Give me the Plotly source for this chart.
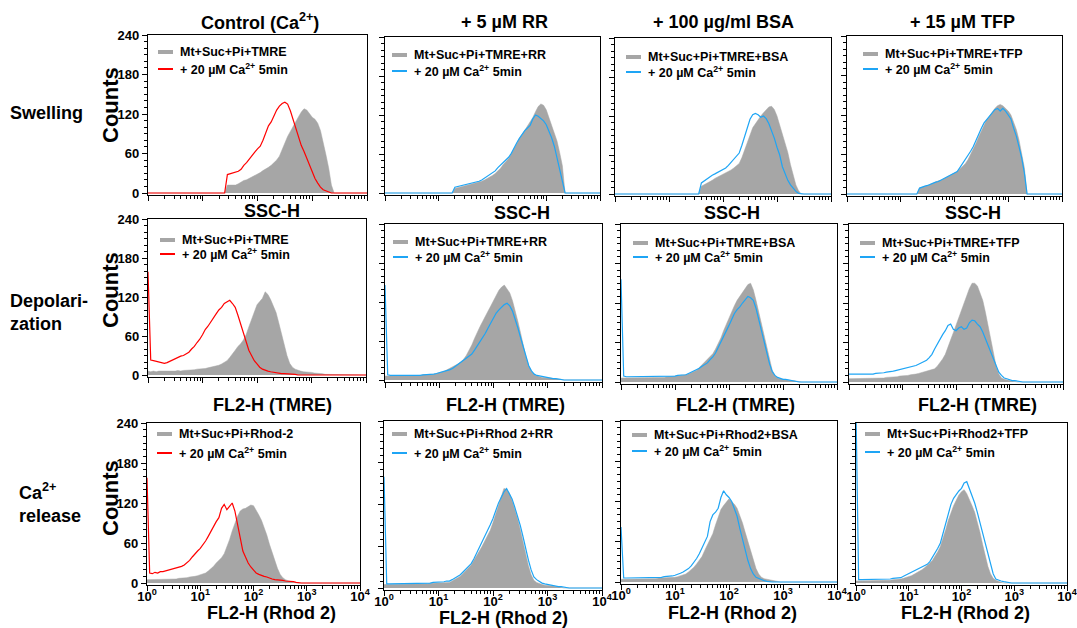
import numpy as np
import plotly.graph_objects as go

# ---------------- DATA (counts per 0.05-decade channel) -------------
STEP = 0.05  # bin width in decades

# Row 1: Swelling (SSC-H)
swell_ctrl_base_start = 1.45
swell_ctrl_base = [12, 12, 13, 12, 14, 17, 19, 20, 22, 25, 27, 29, 31, 34, 36, 39, 42, 46, 50, 56, 65, 76, 86, 94,
                   100, 108, 116, 123, 128, 126, 120, 115, 112, 106, 95, 78, 58, 38, 12]
swell_ctrl_ca_start = 1.45
swell_ctrl_ca = [28, 29, 30, 31, 33, 36, 42, 46, 52, 58, 62, 67, 71, 80, 92, 102, 108, 118, 126, 132, 136, 138, 135,
                 125, 112, 98, 85, 72, 63, 52, 42, 32, 22, 15, 9, 5, 3, 1]
swell_rr_base_start = 1.30
swell_rr_base = [7, 8, 9, 10, 11, 12, 13, 14, 15, 16, 18, 20, 22, 25, 27, 30, 34, 38, 44, 48, 53, 60, 68, 77, 84, 90,
                 96, 102, 108, 116, 125, 133, 137, 135, 128, 116, 104, 92, 80, 62, 42]
swell_rr_ca_start = 1.30
swell_rr_ca = [9, 10, 11, 11, 12, 13, 14, 15, 17, 18, 20, 23, 26, 28, 31, 34, 39, 43, 47, 51, 55, 61, 70, 77, 84, 90,
               96, 100, 104, 114, 120, 118, 115, 111, 105, 95, 85, 72, 55, 38, 20]
swell_bsa_base_start = 1.60
swell_bsa_base = [12, 14, 16, 18, 21, 24, 26, 28, 30, 32, 34, 37, 40, 43, 47, 56, 68, 80, 92, 102, 108, 115, 120, 125,
                  130, 134, 135, 130, 120, 106, 92, 78, 64, 45, 28, 14, 5]
swell_bsa_ca_start = 1.60
swell_bsa_ca = [17, 20, 24, 27, 29, 31, 33, 35, 37, 40, 44, 49, 54, 58, 63, 75, 88, 100, 115, 122, 124, 122, 118, 120,
                116, 108, 98, 86, 72, 60, 42, 30, 21, 14, 8, 4, 1]
swell_tfp_base_start = 1.35
swell_tfp_base = [9, 10, 11, 13, 15, 17, 18, 20, 21, 23, 25, 27, 29, 31, 34, 38, 42, 46, 52, 60, 67, 77, 87, 96, 105,
                  113, 118, 125, 130, 134, 136, 134, 130, 126, 120, 108, 98, 82, 62, 40]
swell_tfp_ca_start = 1.35
swell_tfp_ca = [9, 11, 12, 13, 15, 17, 18, 19, 21, 23, 25, 27, 29, 31, 34, 40, 46, 52, 58, 65, 72, 82, 92, 100, 108,
                113, 118, 124, 128, 130, 126, 130, 126, 120, 114, 100, 88, 72, 55, 32]

# Row 2: Depolarization (FL2-H, TMRE) - channels start at 10^0
depol_ctrl_base = [6, 5, 6, 5, 6, 6, 5, 6, 6, 6, 6, 7, 6, 7, 7, 8, 8, 8, 9, 9, 10, 10, 11, 12, 12, 13, 15, 17, 19, 22,
                   27, 32, 38, 44, 48, 54, 62, 74, 86, 98, 108, 113, 118, 128, 124, 116, 106, 96, 80, 62, 45, 30, 18,
                   12, 9, 7, 6, 5, 5, 4, 4, 3, 3, 2, 2, 1, 1]
depol_ctrl_ca = [159, 23, 22, 21, 20, 19, 18, 19, 21, 23, 26, 28, 29, 30, 32, 35, 40, 44, 50, 55, 62, 70, 75, 82, 88,
                 94, 100, 104, 110, 113, 115, 110, 104, 92, 78, 62, 50, 38, 30, 22, 17, 12, 9, 7, 6, 5, 4, 3, 3, 2, 2,
                 2, 1, 1, 1]
depol_rr_base = [6, 6, 6, 6, 6, 6, 6, 6, 6, 7, 7, 7, 7, 7, 8, 8, 8, 9, 9, 10, 11, 12, 14, 16, 18, 20, 22, 25, 28, 32,
                 38, 45, 54, 64, 74, 82, 90, 97, 106, 114, 122, 132, 138, 143, 146, 140, 134, 122, 108, 90, 72, 52, 35,
                 22, 13, 8, 6, 5, 4, 4, 3, 3, 2, 2, 1, 1]
depol_rr_ca = [146, 8, 7, 7, 6, 6, 6, 6, 6, 6, 7, 7, 7, 7, 8, 8, 8, 9, 9, 10, 11, 12, 13, 14, 16, 18, 21, 24, 27, 30,
               33, 36, 40, 46, 52, 58, 65, 72, 80, 88, 95, 103, 108, 112, 116, 118, 114, 106, 94, 80, 65, 50, 35, 22,
               14, 9, 7, 6, 5, 4, 3, 3, 2, 2, 1, 1]
depol_bsa_base = [6, 6, 6, 6, 6, 6, 6, 6, 6, 6, 6, 7, 7, 7, 7, 7, 7, 8, 8, 8, 9, 9, 10, 10, 11, 12, 14, 16, 18, 22, 26,
                  30, 34, 38, 43, 50, 58, 67, 78, 88, 98, 108, 116, 124, 130, 136, 142, 148, 150, 140, 124, 106, 88,
                  70, 50, 33, 18, 10, 6, 5, 4, 3, 3, 2, 2, 1]
depol_bsa_ca = [156, 9, 8, 8, 8, 8, 8, 8, 8, 8, 8, 8, 8, 8, 8, 8, 8, 8, 9, 9, 9, 10, 10, 10, 11, 13, 15, 16, 18, 21,
                24, 27, 29, 34, 38, 44, 52, 60, 70, 78, 86, 95, 104, 110, 114, 120, 126, 130, 128, 124, 112, 95, 78,
                60, 42, 28, 16, 10, 7, 5, 4, 4, 3, 2, 1]
depol_tfp_base = [5, 5, 5, 5, 5, 5, 5, 5, 5, 6, 6, 6, 6, 6, 7, 7, 7, 8, 8, 9, 9, 10, 10, 11, 11, 12, 13, 14, 15, 16,
                  17, 18, 20, 24, 29, 35, 42, 52, 64, 75, 86, 96, 108, 118, 132, 142, 150, 150, 146, 136, 124, 106,
                  86, 64, 42, 24, 12, 6, 4, 3, 2, 1]
depol_tfp_ca = [12, 12, 12, 11, 11, 11, 11, 12, 12, 12, 13, 13, 14, 14, 15, 15, 16, 17, 18, 18, 19, 20, 21, 22, 24,
                25, 27, 29, 31, 33, 37, 42, 50, 58, 65, 72, 78, 86, 88, 80, 78, 82, 84, 80, 82, 90, 94, 93, 88, 84,
                76, 66, 56, 46, 36, 24, 15, 10, 6, 5, 3, 2, 2, 1]

# Row 3: Ca2+ release (FL2-H, Rhod 2) - channels start at 10^0
rel_ctrl_base = [5, 5, 5, 5, 5, 5, 5, 5, 6, 6, 6, 6, 7, 7, 8, 8, 9, 9, 10, 11, 12, 13, 15, 18, 21, 25, 30, 34, 38,
                 44, 54, 65, 78, 90, 100, 108, 111, 112, 114, 117, 116, 110, 102, 94, 84, 72, 58, 46, 32, 22, 13, 8,
                 5, 3, 2, 1]
rel_ctrl_ca = [158, 15, 14, 16, 15, 17, 17, 18, 19, 20, 21, 22, 24, 25, 27, 30, 34, 39, 44, 48, 52, 57, 63, 70, 78,
               85, 92, 98, 112, 118, 110, 115, 120, 108, 90, 68, 48, 38, 30, 24, 19, 15, 13, 11, 10, 9, 7, 6, 5, 5,
               4, 4, 3, 3, 2, 2, 1]
rel_rr_base = [5, 5, 5, 5, 5, 5, 5, 5, 5, 5, 5, 5, 6, 6, 6, 6, 6, 7, 7, 7, 7, 7, 7, 8, 8, 10, 12, 15, 17, 21, 25, 29,
               33, 40, 46, 53, 60, 67, 74, 83, 94, 106, 120, 132, 143, 142, 136, 126, 114, 100, 84, 66, 48, 32, 19,
               11, 8, 6, 5, 4, 4, 3, 3, 2, 2, 1]
rel_rr_ca = [160, 6, 6, 6, 6, 6, 6, 6, 6, 6, 6, 6, 6, 7, 7, 7, 7, 7, 8, 8, 8, 9, 9, 10, 10, 12, 14, 16, 19, 23, 27,
             31, 35, 42, 50, 57, 65, 73, 82, 91, 100, 112, 122, 130, 138, 143, 136, 128, 116, 104, 90, 74, 56, 40, 26,
             16, 12, 9, 7, 6, 5, 4, 3, 3, 2, 2, 1]
rel_bsa_base = [4, 4, 4, 4, 4, 4, 4, 4, 5, 5, 5, 5, 5, 5, 6, 6, 6, 6, 6, 7, 7, 8, 9, 10, 12, 15, 18, 22, 27, 32, 38,
                47, 56, 64, 72, 85, 98, 108, 114, 119, 124, 120, 116, 110, 100, 88, 74, 60, 46, 32, 20, 12, 7, 5, 4,
                3, 2, 2, 1]
rel_bsa_ca = [82, 6, 6, 6, 6, 6, 6, 6, 6, 6, 6, 6, 6, 7, 7, 7, 8, 8, 9, 9, 10, 11, 13, 15, 17, 20, 24, 29, 35, 42, 50,
              58, 68, 90, 100, 104, 110, 126, 136, 130, 126, 120, 110, 98, 80, 64, 46, 32, 20, 12, 7, 5, 3, 2, 1]
rel_tfp_base = [3, 3, 3, 3, 3, 3, 3, 3, 3, 4, 4, 4, 4, 4, 5, 5, 6, 6, 7, 8, 9, 11, 13, 15, 18, 20, 23, 26, 30, 34, 40,
                47, 55, 66, 80, 94, 106, 116, 124, 132, 137, 140, 134, 126, 116, 106, 92, 76, 58, 40, 25, 14, 7, 4, 2,
                1]
rel_tfp_ca = [260, 5, 5, 5, 5, 5, 5, 5, 5, 5, 5, 6, 6, 6, 7, 7, 7, 8, 10, 12, 14, 16, 18, 20, 22, 24, 26, 28, 32, 38,
              44, 52, 60, 75, 92, 106, 118, 127, 133, 138, 142, 150, 152, 142, 130, 120, 106, 90, 74, 60, 44, 30, 14,
              6, 4, 3, 2, 1]

col_titles = ["Control (Ca<sup>2+</sup>)", "+ 5 µM RR", "+ 100 µg/ml BSA", "+ 15 µM TFP"]
row_labels = ["Swelling", "Depolari-<br>zation", "Ca<sup>2+</sup><br>release"]
x_titles = ["SSC-H", "FL2-H (TMRE)", "FL2-H (Rhod 2)"]
base_labels = [
    ["Mt+Suc+Pi+TMRE", "Mt+Suc+Pi+TMRE+RR", "Mt+Suc+Pi+TMRE+BSA", "Mt+Suc+Pi+TMRE+TFP"],
    ["Mt+Suc+Pi+TMRE", "Mt+Suc+Pi+TMRE+RR", "Mt+Suc+Pi+TMRE+BSA", "Mt+Suc+Pi+TMRE+TFP"],
    ["Mt+Suc+Pi+Rhod-2", "Mt+Suc+Pi+Rhod 2+RR", "Mt+Suc+Pi+Rhod2+BSA", "Mt+Suc+Pi+Rhod2+TFP"],
]
ca_label = "+ 20 µM Ca<sup>2+</sup> 5min"
y_ticks = [0, 60, 120, 180, 240]
x_tick_vals = [1, 10, 100, 1000, 10000]
x_tick_text = ["10<sup>0</sup>", "10<sup>1</sup>", "10<sup>2</sup>", "10<sup>3</sup>", "10<sup>4</sup>"]

series = [
    (swell_ctrl_base_start, swell_ctrl_base, swell_ctrl_ca_start, swell_ctrl_ca),
    (swell_rr_base_start, swell_rr_base, swell_rr_ca_start, swell_rr_ca),
    (swell_bsa_base_start, swell_bsa_base, swell_bsa_ca_start, swell_bsa_ca),
    (swell_tfp_base_start, swell_tfp_base, swell_tfp_ca_start, swell_tfp_ca),
    (0, depol_ctrl_base, 0, depol_ctrl_ca),
    (0, depol_rr_base, 0, depol_rr_ca),
    (0, depol_bsa_base, 0, depol_bsa_ca),
    (0, depol_tfp_base, 0, depol_tfp_ca),
    (0, rel_ctrl_base, 0, rel_ctrl_ca),
    (0, rel_rr_base, 0, rel_rr_ca),
    (0, rel_bsa_base, 0, rel_bsa_ca),
    (0, rel_tfp_base, 0, rel_tfp_ca),
]

# ---------------- LAYOUT / STYLE ----------------
W, H = 1077, 628
FONT = "Liberation Sans, Arial, Helvetica, sans-serif"
GRAY = "#a6a6a6"
RED = "#ff0000"
BLUE = "#1ea5f5"
YMIN = -3

# panel boxes in pixels: left, right, top (=240), y of zero
BOXES = [(148, 367, 35, 193), (385, 600, 37, 193), (615, 831, 38, 194), (847, 1062, 36, 194),
         (148, 366, 219, 375), (385, 602, 224, 380), (621, 837, 224, 382), (849, 1063, 224, 382),
         (147, 360, 423, 583), (384, 602, 421, 588), (621, 837, 421, 582), (856, 1067, 423, 583)]
LEG_DX = [10, 7, 11, 16, 12, 8, 12, 11, 10, 8, 11, 9]
LEG_DY1 = [17, 18, 19, 18, 21, 18, 19, 19, 11, 13, 14, 11]
LEG_DY2 = [34, 34, 34, 33, 35, 33, 33, 33, 30, 32, 30, 29]


def px(x):
    return x / W


def py(y):
    return 1 - y / H


grid = np.round(np.arange(0, 4 + STEP / 2, STEP), 4)
xvals = 10 ** grid


def full(start, vals):
    y = np.zeros(len(grid))
    i0 = int(round(start / STEP))
    y[i0:i0 + len(vals)] = vals
    return y


minor_x = [m * 10 ** e for e in range(4) for m in range(2, 10)]

fig = go.Figure()
layout = dict(width=W, height=H, margin=dict(l=0, r=0, t=0, b=0, autoexpand=False), paper_bgcolor="white",
              plot_bgcolor="white", showlegend=False, font=dict(family=FONT, color="black"), template="none")
annotations = []
shapes = []

for k, (l, r, t, z) in enumerate(BOXES):
    n = k + 1
    row, col = divmod(k, 4)
    sfx = "" if n == 1 else str(n)
    b = z + (z - t) * (-YMIN) / 240.0
    bs, bv, cs, cv = series[k]
    color = RED if col == 0 else BLUE
    fig.add_trace(go.Scatter(x=xvals, y=full(bs, bv), xaxis="x" + sfx, yaxis="y" + sfx, mode="lines",
                             line=dict(shape="linear", width=0.5, color=GRAY), fill="tozeroy", fillcolor=GRAY,
                             hoverinfo="skip"))
    fig.add_trace(go.Scatter(x=xvals, y=full(cs, cv), xaxis="x" + sfx, yaxis="y" + sfx, mode="lines",
                             line=dict(shape="linear", width=1.2, color=color), hoverinfo="skip"))
    layout["xaxis" + sfx] = dict(
        domain=[px(l), px(r)], anchor="y" + sfx, type="log", range=[0, 4], showgrid=False, zeroline=False,
        automargin=False,
        showline=True, linecolor="black", linewidth=1.4, mirror=True,
        ticks="outside", ticklen=5, tickwidth=1.2, tickcolor="black",
        tickmode="array", tickvals=x_tick_vals, ticktext=x_tick_text, showticklabels=(row == 2),
        ticklabelstandoff=-6, ticklabeloverflow="allow",
        tickfont=dict(family=FONT, size=13, color="black", weight="bold"),
        minor=dict(tickmode="array", tickvals=minor_x, ticks="outside", ticklen=3, tickwidth=1, tickcolor="black"))
    layout["yaxis" + sfx] = dict(
        domain=[py(b), py(t)], anchor="x" + sfx, range=[YMIN, 240], showgrid=False, zeroline=False,
        automargin=False,
        showline=True, linecolor="black", linewidth=1.4, mirror=True,
        ticks="outside", ticklen=5, tickwidth=1.2, tickcolor="black",
        tickmode="array", tickvals=y_ticks, showticklabels=(col == 0),
        tickfont=dict(family=FONT, size=13, color="black", weight="bold"),
        minor=dict(tick0=0, dtick=10, ticks="outside", ticklen=3, tickwidth=1, tickcolor="black"))

    # legend (sample line + text)
    sx = l + LEG_DX[k]
    y1 = t + LEG_DY1[k]
    y2 = t + LEG_DY2[k]
    shapes.append(dict(type="line", xref="paper", yref="paper", x0=px(sx), x1=px(sx + 15), y0=py(y1), y1=py(y1),
                       line=dict(color=GRAY, width=4)))
    shapes.append(dict(type="line", xref="paper", yref="paper", x0=px(sx), x1=px(sx + 15), y0=py(y2), y1=py(y2),
                       line=dict(color=color, width=2)))
    for yy, txt in ((y1, base_labels[row][col]), (y2, ca_label)):
        annotations.append(dict(x=px(sx + 20), y=py(yy), xref="paper", yref="paper", text=txt, showarrow=False,
                                xanchor="left", yanchor="middle",
                                font=dict(family=FONT, size=12.5, color="black", weight="bold")))

big = dict(family=FONT, size=18, color="black", weight="bold")
for (x, y), txt in zip([(260, 21), (504, 22), (723, 22), (962, 22)], col_titles):
    annotations.append(dict(x=px(x), y=py(y), xref="paper", yref="paper", text=txt, showarrow=False,
                            xanchor="center", yanchor="middle", font=big))

xt_pos = [[(272, 211), (522, 213), (732, 213), (973, 213)],
          [(272, 405), (505, 405), (735, 405), (978, 405)],
          [(271, 613), (503, 618), (732, 613), (965, 613)]]
for r in range(3):
    for (x, y) in xt_pos[r]:
        annotations.append(dict(x=px(x), y=py(y), xref="paper", yref="paper", text=x_titles[r], showarrow=False,
                                xanchor="center", yanchor="middle", font=big))

for (x, y), txt in zip([(8, 113), (8, 313), (17, 503)], row_labels):
    annotations.append(dict(x=px(x), y=py(y), xref="paper", yref="paper", text=txt, showarrow=False,
                            xanchor="left", yanchor="middle", align="left", font=big))

for y in (105, 290, 498):
    annotations.append(dict(x=px(110), y=py(y), xref="paper", yref="paper", text="Counts", showarrow=False,
                            textangle=-90, xanchor="center", yanchor="middle",
                            font=dict(family=FONT, size=22, color="black", weight="bold")))

layout["annotations"] = annotations
layout["shapes"] = shapes
fig.update_layout(**layout)
fig.write_html("out.html", config={"displayModeBar": False},
               post_script="document.body.style.margin='0px';document.body.style.padding='0px';")
